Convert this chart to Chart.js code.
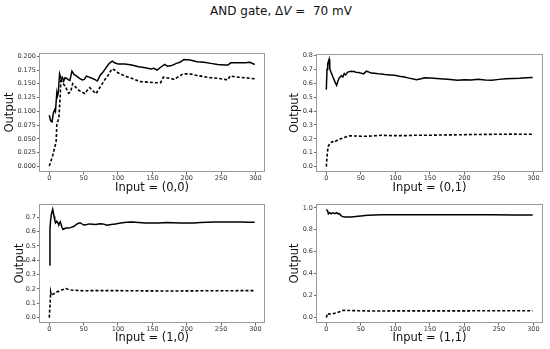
<!DOCTYPE html>
<html>
<head>
<meta charset="utf-8">
<script src="https://cdn.jsdelivr.net/npm/chart.js@4/dist/chart.umd.min.js"></script>
<style>
  html, body { margin: 0; padding: 0; background: #fff; }
  body { width: 550px; height: 349px; position: relative; overflow: hidden; font-family: "DejaVu Sans", sans-serif; }
  canvas { position: absolute; }
  #title { position: absolute; left: 6px; top: 4px; width: 550px; text-align: center; font-size: 12px; color: #111; }
</style>
</head>
<body>
<div id="title">AND gate, Δ<i>V</i> =&nbsp; 70 mV</div>
<canvas id="c1"></canvas>
<canvas id="c2"></canvas>
<canvas id="c3"></canvas>
<canvas id="c4"></canvas>
<script>
// ---- data (x = input index, y = output) ----
const xTicks = [0, 50, 100, 150, 200, 250, 300];
const yTicks00 = [0, 0.025, 0.05, 0.075, 0.1, 0.125, 0.15, 0.175, 0.2];
const yTicks01 = [0, 0.1, 0.2, 0.3, 0.4, 0.5, 0.6, 0.7, 0.8];
const yTicks10 = [0, 0.1, 0.2, 0.3, 0.4, 0.5, 0.6, 0.7];
const yTicks11 = [0, 0.2, 0.4, 0.6, 0.8, 1.0];
const xLabels = ["Input = (0,0)", "Input = (0,1)", "Input = (1,0)", "Input = (1,1)"];

const solid00X = [0,2,4,6,8,9,11,12,13,15,17,19,21,23,25,28,30,33,36,40,44,48,51,54,58,62,66,70,74,78,82,86,89,92,95,100,110,120,130,140,148,152,157,162,168,172,178,185,190,196,205,215,225,235,245,255,260,264,275,285,292,299];
const solid00Y = [0.093,0.083,0.081,0.097,0.103,0.100,0.134,0.128,0.133,0.168,0.160,0.162,0.155,0.161,0.160,0.157,0.156,0.173,0.167,0.164,0.160,0.157,0.158,0.164,0.162,0.160,0.158,0.155,0.165,0.171,0.178,0.185,0.189,0.191,0.188,0.186,0.186,0.184,0.181,0.179,0.177,0.178,0.175,0.180,0.185,0.182,0.183,0.187,0.189,0.194,0.193,0.190,0.189,0.187,0.185,0.184,0.184,0.188,0.188,0.188,0.189,0.185];
const dash00X = [0,2,5,7,9,10,11,13,14,16,17,19,23,28,31,34,37,41,46,52,55,59,63,68,72,77,81,84,88,91,95,100,110,120,132,145,155,162,166,175,182,188,195,205,215,225,235,245,255,260,263,275,285,299];
const dash00Y = [0.001,0.008,0.020,0.030,0.040,0.045,0.078,0.084,0.088,0.130,0.160,0.152,0.146,0.133,0.135,0.150,0.146,0.140,0.136,0.132,0.138,0.143,0.138,0.132,0.140,0.150,0.158,0.162,0.170,0.177,0.175,0.170,0.164,0.160,0.154,0.153,0.152,0.152,0.162,0.160,0.158,0.163,0.168,0.168,0.165,0.163,0.161,0.160,0.158,0.157,0.164,0.162,0.161,0.159];

const solid01X = [0,1,2,4,5,6,8,10,13,15,17,19,22,24,26,28,31,36,40,43,47,50,54,58,62,65,70,75,80,85,92,99,106,113,120,126,131,137,143,150,160,170,180,190,200,210,220,230,240,250,260,270,280,290,299];
const solid01Y = [0.554,0.70,0.74,0.772,0.705,0.69,0.665,0.64,0.605,0.585,0.62,0.64,0.655,0.645,0.67,0.66,0.68,0.687,0.684,0.68,0.677,0.673,0.668,0.687,0.68,0.673,0.672,0.669,0.667,0.663,0.66,0.657,0.650,0.645,0.637,0.630,0.626,0.632,0.640,0.638,0.634,0.630,0.627,0.622,0.626,0.624,0.628,0.624,0.622,0.628,0.632,0.634,0.636,0.640,0.642];
const dash01X = [0,1,2,3,5,7,9,12,14,18,22,26,30,34,40,50,60,70,80,90,100,115,130,150,170,190,210,230,250,270,285,299];
const dash01Y = [0.0,0.07,0.12,0.148,0.165,0.175,0.180,0.175,0.185,0.195,0.203,0.210,0.217,0.222,0.221,0.219,0.219,0.222,0.226,0.224,0.223,0.223,0.226,0.226,0.228,0.229,0.231,0.232,0.233,0.234,0.233,0.233];

const solid10X = [0,1,2,3,5,6,7,8,9,10,11,12,13,14,15,16,18,20,22,24,28,31,36,41,45,50,55,58,63,68,73,78,84,90,96,104,112,120,130,140,150,160,170,180,190,200,210,220,230,240,250,260,270,280,290,299];
const solid10Y = [0.367,0.62,0.68,0.72,0.755,0.73,0.705,0.68,0.66,0.665,0.672,0.668,0.655,0.65,0.66,0.668,0.637,0.615,0.62,0.625,0.625,0.628,0.637,0.655,0.662,0.646,0.650,0.654,0.652,0.650,0.655,0.654,0.645,0.650,0.653,0.660,0.665,0.667,0.664,0.661,0.660,0.661,0.663,0.662,0.660,0.660,0.661,0.664,0.666,0.668,0.668,0.667,0.668,0.667,0.666,0.666];
const dash10X = [0,1,2,3,5,8,11,14,18,22,24,28,32,40,50,60,80,100,130,160,190,220,250,280,299];
const dash10Y = [0.0,0.08,0.178,0.155,0.162,0.170,0.180,0.183,0.192,0.200,0.203,0.196,0.192,0.190,0.187,0.188,0.188,0.188,0.187,0.186,0.186,0.187,0.187,0.188,0.188];

const solid11X = [0,2,3,5,7,9,11,13,15,17,19,21,23,26,30,36,42,50,60,70,80,100,120,150,180,210,240,270,299];
const solid11Y = [0.985,0.97,0.945,0.955,0.945,0.955,0.950,0.948,0.955,0.945,0.948,0.930,0.922,0.916,0.917,0.917,0.920,0.926,0.932,0.935,0.937,0.938,0.938,0.936,0.936,0.937,0.936,0.935,0.935];
const dash11X = [0,2,4,8,12,16,20,23,26,35,50,70,100,130,160,190,220,250,280,299];
const dash11Y = [0.0,0.04,0.032,0.033,0.040,0.045,0.055,0.065,0.066,0.064,0.062,0.060,0.061,0.061,0.061,0.061,0.062,0.062,0.062,0.062];

// ---- layout (canvas box and plot box, page pixels) ----
const panels = [
  { id: 'c1', canvas: [0, 40, 275, 155],  plot: [39, 53, 265, 172],  sx: solid00X, sy: solid00Y, dx: dash00X, dy: dash00Y, yTicks: yTicks00, yMin: -0.0098, yMax: 0.2058, dec: 3, xLabel: xLabels[0] },
  { id: 'c2', canvas: [285, 40, 265, 155], plot: [316, 54, 543, 172], sx: solid01X, sy: solid01Y, dx: dash01X, dy: dash01Y, yTicks: yTicks01, yMin: -0.0386, yMax: 0.8106, dec: 1, xLabel: xLabels[1] },
  { id: 'c3', canvas: [10, 195, 265, 150], plot: [39, 204, 265, 323], sx: solid10X, sy: solid10Y, dx: dash10X, dy: dash10Y, yTicks: yTicks10, yMin: -0.0378, yMax: 0.7928, dec: 1, xLabel: xLabels[2] },
  { id: 'c4', canvas: [285, 195, 265, 150], plot: [316, 204, 543, 323], sx: solid11X, sy: solid11Y, dx: dash11X, dy: dash11Y, yTicks: yTicks11, yMin: -0.0493, yMax: 1.0348, dec: 1, xLabel: xLabels[3] }
];

const framePlugin = {
  id: 'frame',
  afterDraw(chart) {
    const a = chart.chartArea, ctx = chart.ctx;
    ctx.save();
    ctx.strokeStyle = '#9a9a9a';
    ctx.lineWidth = 1;
    ctx.strokeRect(Math.round(a.left) + 0.5, Math.round(a.top) + 0.5, Math.round(a.right - a.left) - 1, Math.round(a.bottom - a.top) - 1);
    ctx.restore();
  }
};

const tickFont = { family: 'DejaVu Sans', size: 6.5 };
const titleFont = { family: 'DejaVu Sans', size: 11.5 };

panels.forEach(p => {
  const [cl, ct, cw, ch] = p.canvas;
  const [pl, pt, pr, pb] = p.plot;
  const cv = document.getElementById(p.id);
  cv.style.left = cl + 'px';
  cv.style.top = ct + 'px';
  cv.width = cw; cv.height = ch;
  cv.style.width = cw + 'px'; cv.style.height = ch + 'px';
  const toPts = (xs, ys) => xs.map((x, i) => ({ x: x, y: ys[i] }));
  new Chart(cv, {
    type: 'line',
    data: {
      datasets: [
        { data: toPts(p.sx, p.sy), borderColor: '#000', borderWidth: 1.5, pointRadius: 0, tension: 0, fill: false },
        { data: toPts(p.dx, p.dy), borderColor: '#000', borderWidth: 1.6, borderDash: [3, 2], pointRadius: 0, tension: 0, fill: false }
      ]
    },
    options: {
      responsive: false,
      animation: false,
      devicePixelRatio: 1,
      layout: { padding: { left: 0, top: pt - ct, right: cl + cw - pr, bottom: 0 } },
      plugins: { legend: { display: false }, tooltip: { enabled: false }, title: { display: false } },
      scales: {
        x: {
          type: 'linear', min: -14.95, max: 313.95,
          afterBuildTicks: s => { s.ticks = xTicks.map(v => ({ value: v })); },
          afterFit: s => { s.height = ct + ch - pb; },
          ticks: { font: tickFont, color: '#333', padding: 0, maxRotation: 0, autoSkip: false, callback: v => String(v) },
          grid: { display: true, drawOnChartArea: false, drawTicks: true, tickLength: 2.5, color: '#444', tickWidth: 0.8 },
          border: { display: false },
          title: { display: true, text: p.xLabel, font: titleFont, color: '#111', padding: { top: 0, bottom: 0.5 } }
        },
        y: {
          type: 'linear', min: p.yMin, max: p.yMax,
          afterBuildTicks: s => { s.ticks = p.yTicks.map(v => ({ value: v })); },
          afterFit: s => { s.width = pl - cl; },
          ticks: { font: tickFont, color: '#333', padding: 1, autoSkip: false, callback: v => Number(v).toFixed(p.dec) },
          grid: { display: true, drawOnChartArea: false, drawTicks: true, tickLength: 2, color: '#444', tickWidth: 0.8 },
          border: { display: false },
          title: { display: true, text: 'Output', font: titleFont, color: '#111', padding: { top: 3, bottom: 0 } }
        }
      }
    },
    plugins: [framePlugin]
  });
});
</script>
</body>
</html>
